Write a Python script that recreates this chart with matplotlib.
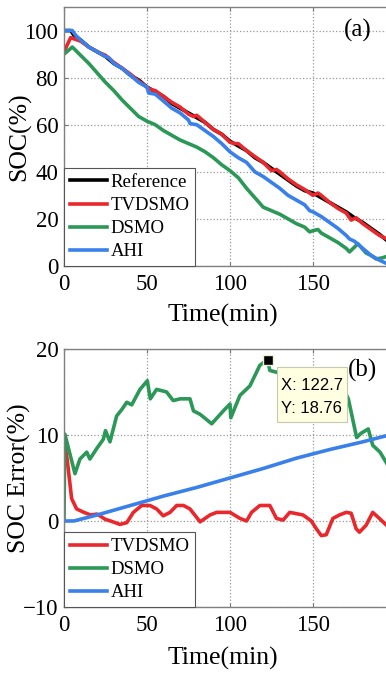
import matplotlib
matplotlib.use("Agg")
import matplotlib.pyplot as plt
from matplotlib.patches import Rectangle

plt.rcParams['font.family'] = ['Liberation Serif', 'DejaVu Serif']

# ---- panel (a): SOC estimates ----
t_ref = [0, 4, 6, 10, 15, 20, 25, 30, 35, 40, 45, 50, 55, 60, 65, 70, 75, 80, 85, 90,
         95, 100, 105, 110, 115, 120, 125, 130, 135, 140, 145, 150, 155, 160, 165, 170,
         175, 180, 185, 190, 196]
soc_ref = [100, 100, 98, 96, 93, 91, 89, 86, 84, 81, 79, 76, 74, 72, 69, 67, 65, 63, 61, 58,
           56, 53, 51, 49, 46, 44, 41.5, 39, 36.5, 34, 32, 31, 29, 27, 25, 23,
           20.5, 18.5, 16, 13.5, 10]

t_tv = [0, 4, 6, 10, 15, 20, 25, 30, 35, 40, 45, 50, 52, 55, 60, 65, 70, 75, 78, 80, 85,
        90, 95, 100, 103, 105, 110, 115, 120, 125, 128, 130, 135, 140, 145, 150, 153, 155,
        160, 165, 170, 173, 176, 180, 185, 190, 196]
soc_tv = [91, 97, 96.5, 95.5, 93, 91, 89.5, 86.5, 84, 81.5, 78.5, 76, 75, 74.5, 72, 69.5,
          67.5, 64.5, 63.5, 64, 61, 58, 56, 52.5, 52, 52, 49, 46.5, 44, 40.5, 41, 40, 37,
          34.5, 32.5, 30, 31, 30, 27, 24.5, 22.5, 19.5, 20.5, 18, 15.5, 13, 11]

t_ds = [0, 5, 10, 15, 20, 25, 30, 35, 40, 45, 50, 55, 60, 65, 70, 75, 80, 85, 90, 95, 100,
        105, 110, 115, 120, 125, 130, 135, 140, 145, 148, 150, 153, 155, 160, 165, 170,
        172, 175, 177, 182, 185, 188, 192, 196]
soc_ds = [90, 93, 89.5, 86, 82, 78, 74.5, 70.5, 67, 63.5, 61.5, 60, 57.5, 55.5, 53.5, 52,
          50.5, 48.5, 46, 43, 40.5, 37.5, 33, 29, 25, 23.5, 22, 20, 18, 16.5, 14.5, 15, 15.5,
          14, 12, 10, 7.5, 6, 8, 9.5, 5.5, 4.5, 3, 3.5, 4.5]

t_ahi = [0, 5, 7, 10, 15, 20, 25, 27, 30, 35, 40, 45, 50, 51, 55, 60, 65, 70, 75, 76, 80,
         85, 90, 95, 100, 105, 110, 115, 120, 125, 130, 135, 140, 145, 148, 150, 155, 160,
         165, 170, 172, 175, 180, 185, 190, 196]
soc_ahi = [100, 100, 98, 96, 93, 91, 89, 88.5, 86, 84, 81, 78, 76, 73.5, 73, 70, 67, 65,
           62, 60.5, 60, 57.5, 55, 52, 48.5, 46, 44, 40, 38, 35.5, 33, 30, 28, 26, 23.5,
           23, 21, 18.5, 16, 13, 11.5, 10.5, 7.5, 4.5, 2.5, 0.5]

# ---- panel (b): SOC errors ----
t_etv = [0, 2, 4.6, 7.6, 12, 16, 20, 24.8, 28, 33.7, 37.8, 41.8, 46.8, 51.8, 55.8, 59.8,
         63.9, 67.9, 72, 75.9, 82, 88, 92, 100, 106, 110, 113, 118, 124, 128, 132, 136,
         144, 149, 152, 155, 158, 162, 166, 170, 173, 176, 178, 182, 186, 190, 196]
err_tv = [9.5, 7, 2.6, 1.4, 1.0, 0.7, 0.8, 0.2, 0, -0.4, -0.2, 1.0, 1.8, 1.8, 1.4, 0.6,
          1.0, 1.8, 1.8, 1.4, -0.1, 0.7, 1.0, 1.0, 0.3, 0, 1.0, 1.8, 1.8, 0.3, 0.1, 1.0,
          0.7, 0, -0.9, -1.7, -1.6, 0.3, 0.7, 1.0, 0.9, -0.9, -1.3, -0.5, 1.0, 0.3, -0.8]

t_eds = [0, 0.5, 6.6, 9.6, 13.7, 15.6, 20, 23.7, 25, 27.7, 31.7, 35, 37.8, 40.8, 45.8,
         50.2, 52, 55.8, 61.8, 65.8, 70, 75.9, 78, 82, 89, 96, 100, 100.5, 106, 112, 118,
         122.7, 124, 130, 140, 150, 160, 168, 171.3, 176.3, 179, 183.3, 186, 190.4, 196]
err_ds = [0, 10.1, 5.5, 7.2, 8.0, 7.2, 8.5, 9.5, 10.5, 9.2, 12.2, 13.0, 13.8, 13.5, 15.3,
          16.3, 14.2, 15.3, 15.0, 14.0, 14.2, 14.2, 12.8, 12.4, 11.3, 12.8, 13.6, 12.0, 14.6,
          15.7, 18.1, 18.76, 17.5, 17.2, 17.0, 16.5, 16.0, 15.5, 14.2, 9.7, 10.2, 10.7, 8.8,
          8.0, 6.2]

t_eahi = [0, 6, 20, 40, 60, 80, 100, 120, 140, 160, 180, 196]
err_ahi = [0, 0, 0.7, 1.8, 2.9, 3.9, 5.0, 6.1, 7.3, 8.3, 9.2, 10.0]

peak_t, peak_v = 122.7, 18.76

c_red = '#e8282c'
c_green = '#2b9858'
c_blue = '#3a80ea'
lw = 2.6

fig = plt.figure(figsize=(3.86, 6.76), dpi=100)
ax1 = fig.add_axes([0.1658, 0.6065, 0.860, 0.3831])
ax2 = fig.add_axes([0.1658, 0.1021, 0.860, 0.3817])


def style(ax, xlab_y):
    ax.set_xlim(0, 200)
    ax.set_xticks([0, 50, 100, 150])
    ax.grid(True, linestyle=':', color='#999999', linewidth=0.9)
    ax.tick_params(direction='in', length=3, labelsize=16.5, top=True, right=True,
                   color='#777777')
    ax.tick_params(axis='x', pad=6)
    ax.tick_params(axis='y', pad=4)
    for s in ax.spines.values():
        s.set_color('#808080')
        s.set_linewidth(1.0)
    ax.set_xlabel('Time(min)', fontsize=18.5)
    ax.xaxis.set_label_coords(0.48, xlab_y)


def legend(ax):
    lg = ax.legend(loc='lower left', borderaxespad=0, fontsize=13.5, handlelength=2.0,
                   handletextpad=0.2, labelspacing=0.32, borderpad=0.3, fancybox=False,
                   framealpha=1, edgecolor='#555555')
    lg.get_frame().set_linewidth(0.8)


ax1.plot(t_ref, soc_ref, color='black', lw=lw, label='Reference')
ax1.plot(t_tv, soc_tv, color=c_red, lw=lw, label='TVDSMO')
ax1.plot(t_ds, soc_ds, color=c_green, lw=lw, label='DSMO')
ax1.plot(t_ahi, soc_ahi, color=c_blue, lw=lw, label='AHI')
style(ax1, -0.148)
ax1.set_ylim(0, 110)
ax1.set_yticks([0, 20, 40, 60, 80, 100])
ax1.set_ylabel('SOC(%)', fontsize=18.5)
ax1.yaxis.set_label_coords(-0.1, 0.5)
ax1.text(177, 100, '(a)', fontsize=18, ha='center', va='center')
legend(ax1)

ax2.plot(t_etv, err_tv, color=c_red, lw=lw, label='TVDSMO')
ax2.plot(t_eds, err_ds, color=c_green, lw=lw, label='DSMO')
ax2.plot(t_eahi, err_ahi, color=c_blue, lw=lw, label='AHI')
style(ax2, -0.155)
ax2.set_ylim(-10, 20)
ax2.set_yticks([-10, 0, 10, 20])
ax2.set_ylabel('SOC Error(%)', fontsize=18.5)
ax2.yaxis.set_label_coords(-0.1, 0.5)
ax2.text(180, 17.5, '(b)', fontsize=18, ha='center', va='center')
legend(ax2)

# data tip
ax2.plot([peak_t], [peak_v], marker='s', markersize=7.5, color='black',
         markeredgecolor='#f0f0d8', markeredgewidth=1, zorder=6, clip_on=False)
ax2.add_patch(Rectangle((128.1, 11.5), 42.2, 6.4, facecolor='#ffffe1',
                        edgecolor='#c8c8b0', linewidth=0.8, zorder=7))
ax2.text(131.0, 15.75, 'X: %.1f' % peak_t, family=['Liberation Sans'], fontsize=12,
         ha='left', va='center', zorder=8)
ax2.text(131.0, 13.05, 'Y: %.2f' % peak_v, family=['Liberation Sans'], fontsize=12,
         ha='left', va='center', zorder=8)

fig.savefig('out.png', dpi=100)
